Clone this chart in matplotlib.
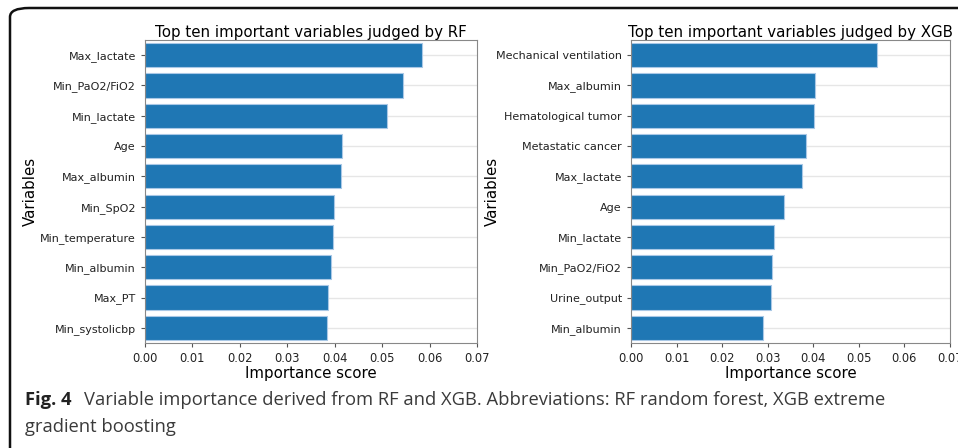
import matplotlib.pyplot as plt
from matplotlib.patches import FancyBboxPatch

rf_vars = ["Max_lactate", "Min_PaO2/FiO2", "Min_lactate", "Age", "Max_albumin",
           "Min_SpO2", "Min_temperature", "Min_albumin", "Max_PT", "Min_systolicbp"]
rf_scores = [0.0585, 0.0543, 0.0510, 0.0416, 0.0413,
             0.0399, 0.0397, 0.0392, 0.0385, 0.0384]

xgb_vars = ["Mechanical ventilation", "Max_albumin", "Hematological tumor",
            "Metastatic cancer", "Max_lactate", "Age", "Min_lactate",
            "Min_PaO2/FiO2", "Urine_output", "Min_albumin"]
xgb_scores = [0.0540, 0.0404, 0.0402, 0.0384, 0.0376,
              0.0336, 0.0314, 0.0309, 0.0307, 0.0290]

W, H = 958, 448
fig = plt.figure(figsize=(W / 100, H / 100), dpi=100)


def px_axes(x0, y0, x1, y1):
    return fig.add_axes([x0 / W, 1 - y1 / H, (x1 - x0) / W, (y1 - y0) / H])


def draw_panel(ax, names, scores, title):
    ypos = range(len(names))
    ax.barh(ypos, scores, height=0.8, color="#1f77b4", edgecolor="#a9c8e6",
            linewidth=0.8, zorder=2)
    ax.set_yticks(list(ypos))
    ax.set_yticklabels(names, fontsize=8)
    ax.set_ylim(len(names) - 0.5, -0.5)
    ax.set_xlim(0, 0.07)
    ax.set_xticks([i / 100 for i in range(8)])
    ax.set_xticklabels([f"{i / 100:.2f}" for i in range(8)], fontsize=8.3)
    ax.grid(axis="y", color="#e6e6e6", linewidth=1, zorder=0)
    for s in ax.spines.values():
        s.set_color("#888888")
    ax.tick_params(length=3, color="#555555", labelcolor="#222222")
    ax.set_xlabel("Importance score", fontsize=10.8, labelpad=1)
    ax.set_ylabel("Variables", fontsize=10.8)
    ax.set_title(title, fontsize=10.8, pad=2)


ax1 = px_axes(145, 40, 477, 343)
draw_panel(ax1, rf_vars, rf_scores, "Top ten important variables judged by RF")
ax1.yaxis.set_label_coords(-0.322, 0.5)

ax2 = px_axes(631, 40, 950, 343)
draw_panel(ax2, xgb_vars, xgb_scores, "Top ten important variables judged by XGB")
ax2.yaxis.set_label_coords(-0.41, 0.5)

# caption frame
frame = FancyBboxPatch((10 / W, -10 / H), 1.2, (H - 8 + 10) / H,
                       boxstyle="round,pad=0,rounding_size=0.02",
                       transform=fig.transFigure, fill=False,
                       edgecolor="#111111", linewidth=1.8)
fig.patches.append(frame)

fig.text(25 / W, 1 - 405 / H, "Fig. 4", fontsize=13.2, fontweight="bold",
         family="Open Sans", color="#222222", va="baseline")
fig.text(84 / W, 1 - 405 / H,
         "Variable importance derived from RF and XGB. Abbreviations: RF random forest, XGB extreme",
         fontsize=13.2, family="Open Sans", color="#3a3a3a", va="baseline")
fig.text(25 / W, 1 - 432 / H, "gradient boosting", fontsize=13.2,
         family="Open Sans", color="#3a3a3a", va="baseline")

fig.savefig("out.png", dpi=100)
